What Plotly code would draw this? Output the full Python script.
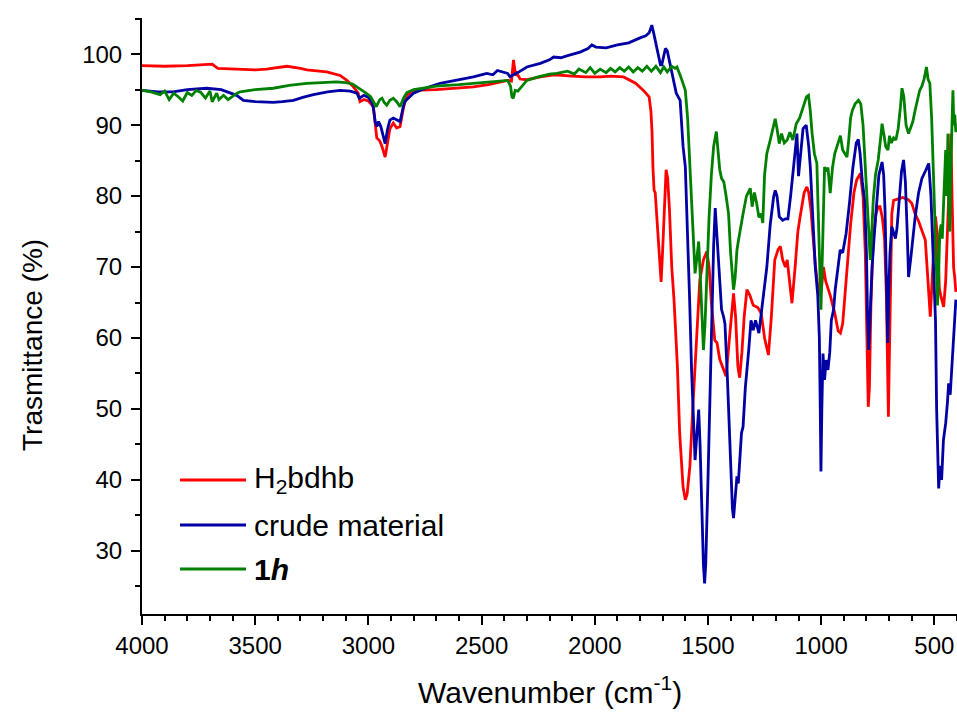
import plotly.graph_objects as go

# ---- IR spectra: wavenumber (cm-1) and transmittance (%) ----
h2bdhb_wn = [4000, 3900, 3800, 3720, 3690, 3665, 3600, 3500, 3450, 3400, 3360, 3300, 3272, 3184, 3125,
             3095, 3066, 3045, 3037, 3020, 3000, 2978, 2968, 2963, 2950, 2940, 2926, 2915, 2905, 2890,
             2875, 2860, 2845, 2830, 2801, 2700, 2600, 2536, 2470, 2418, 2385, 2368, 2359, 2350, 2344,
             2330, 2300, 2241, 2180, 2100, 2040, 1976, 1930, 1873, 1820, 1785, 1760, 1752, 1747, 1743,
             1738, 1733, 1726, 1715, 1707, 1700, 1692, 1685, 1678, 1670, 1660, 1650, 1635, 1625, 1610,
             1600, 1592, 1580, 1565, 1550, 1536, 1520, 1505, 1495, 1485, 1470, 1460, 1448, 1420, 1405,
             1395, 1387, 1378, 1368, 1360, 1350, 1340, 1328, 1315, 1300, 1280, 1265, 1250, 1233, 1220,
             1205, 1190, 1180, 1170, 1158, 1150, 1140, 1129, 1115, 1103, 1093, 1075, 1063, 1055, 1045,
             1033, 1025, 1010, 1000, 990, 980, 960, 940, 925, 915, 905, 895, 886, 870, 855,
             843, 827, 815, 805, 797, 792, 787, 780, 770, 758, 748, 740, 730, 720, 712,
             705, 703, 700, 695, 688, 680, 660, 640, 615, 600, 585, 570, 540, 530, 518,
             510, 503, 495, 485, 478, 472, 459, 450, 440, 432, 427, 422, 415, 410, 405]
h2bdhb_t = [98.4, 98.3, 98.4, 98.5, 98.6, 98.0, 97.9, 97.8, 97.9, 98.1, 98.3, 98.0, 97.8, 97.5, 97.0,
            96.3, 95.4, 94.5, 93.3, 93.6, 93.4, 92.6, 89.5, 88.2, 87.8, 87.0, 85.5, 87.5, 89.5, 90.3,
            89.6, 89.8, 92.5, 94.2, 94.9, 95.0, 95.2, 95.4, 95.7, 96.1, 96.3, 96.2, 99.2, 97.0, 97.3,
            96.5, 96.4, 96.8, 97.1, 96.9, 96.8, 96.8, 96.9, 96.8, 95.9, 94.9, 94.0, 92.0, 89.0, 84.0,
            80.8, 80.5, 77.0, 71.0, 67.9, 72.5, 80.0, 83.7, 82.5, 78.0, 70.0, 65.4, 56.0, 46.6, 39.0,
            37.2, 38.0, 41.9, 51.3, 60.0, 68.2, 71.0, 72.2, 70.0, 65.0, 59.7, 59.3, 57.0, 54.6, 60.0,
            64.0, 66.3, 63.0, 56.0, 54.4, 58.0, 63.0, 66.8, 66.0, 64.6, 64.3, 63.5, 60.0, 57.6, 63.0,
            71.0, 72.5, 72.9, 71.0, 70.0, 71.0, 68.0, 64.9, 70.0, 75.0, 77.1, 80.5, 81.3, 80.5, 78.0,
            73.8, 70.0, 66.0, 66.5, 70.0, 68.0, 66.0, 63.5, 61.0, 60.7, 62.0, 66.0, 69.1, 76.0, 80.5,
            82.3, 83.2, 80.0, 72.0, 60.0, 50.3, 53.0, 65.0, 74.0, 77.5, 78.5, 78.5, 77.0, 74.0, 66.0,
            52.0, 48.9, 55.0, 68.0, 77.5, 79.4, 79.6, 79.8, 79.5, 79.0, 77.5, 76.5, 73.8, 69.1, 63.0,
            68.0, 72.9, 77.1, 74.0, 67.0, 66.0, 64.4, 68.0, 77.1, 84.0, 88.8, 80.0, 70.0, 68.5, 66.5]

crude_wn = [4000, 3930, 3863, 3800, 3714, 3650, 3582, 3552, 3500, 3420, 3380, 3331, 3290, 3243, 3180,
            3125, 3080, 3051, 3040, 3020, 3000, 2985, 2978, 2970, 2963, 2955, 2945, 2935, 2926, 2915,
            2905, 2890, 2875, 2860, 2850, 2840, 2801, 2740, 2683, 2600, 2536, 2477, 2450, 2430, 2400,
            2385, 2374, 2360, 2340, 2300, 2241, 2200, 2182, 2150, 2120, 2065, 2030, 2013, 1995, 1976,
            1950, 1900, 1850, 1800, 1775, 1760, 1748, 1740, 1730, 1718, 1710, 1704, 1695, 1688, 1680,
            1672, 1665, 1650, 1640, 1623, 1610, 1600, 1590, 1581, 1572, 1565, 1557, 1550, 1541, 1535,
            1528, 1520, 1515, 1510, 1500, 1492, 1483, 1475, 1468, 1460, 1450, 1440, 1431, 1425, 1415,
            1400, 1392, 1387, 1380, 1372, 1366, 1360, 1352, 1345, 1335, 1320, 1310, 1300, 1290, 1275,
            1262, 1248, 1240, 1225, 1210, 1203, 1195, 1185, 1170, 1158, 1147, 1135, 1122, 1113, 1107,
            1100, 1092, 1080, 1066, 1055, 1048, 1038, 1026, 1015, 1008, 1004, 1001, 997, 992, 985,
            978, 970, 962, 955, 945, 938, 930, 916, 905, 890, 875, 860, 845, 836, 828,
            818, 808, 800, 795, 790, 784, 775, 765, 755, 745, 731, 724, 718, 712, 708,
            706, 702, 696, 688, 680, 672, 665, 655, 645, 636, 628, 620, 614, 605, 598,
            585, 570, 555, 540, 525, 515, 505, 495, 490, 485, 481, 475, 468, 460, 450,
            442, 437, 430, 422, 415, 405]
crude_t = [94.9, 94.7, 94.7, 95.0, 95.2, 95.0, 94.2, 93.5, 93.3, 93.2, 93.3, 93.5, 93.9, 94.3, 94.7,
           94.9, 94.8, 94.5, 93.8, 94.2, 93.9, 93.2, 92.4, 90.5, 89.8, 90.5, 89.8, 88.5, 87.4, 89.5,
           90.7, 91.0, 90.8, 90.5, 92.0, 93.3, 94.5, 95.3, 95.9, 96.4, 96.8, 97.3, 97.1, 97.7, 97.4,
           97.3, 96.8, 97.1, 97.4, 98.2, 98.7, 99.2, 99.6, 99.5, 99.8, 100.3, 100.8, 101.3, 101.0, 101.0,
           100.9, 101.3, 101.6, 102.3, 102.6, 103.0, 104.1, 103.0, 101.5, 100.0, 98.5, 98.5, 100.0, 100.8, 100.5,
           99.3, 98.7, 96.5, 94.5, 93.5, 87.0, 84.1, 75.0, 65.4, 55.0, 48.0, 42.8, 46.0, 49.9, 45.0,
           36.0, 28.0, 25.4, 28.0, 40.0, 51.3, 63.0, 73.0, 78.3, 74.0, 68.0, 64.0, 63.0, 62.0, 55.0,
           42.0, 36.0, 34.6, 37.0, 40.5, 39.5, 42.0, 46.6, 47.5, 53.0, 58.3, 62.5, 61.1, 62.5, 60.7,
           64.0, 68.0, 70.0, 76.0, 79.9, 80.8, 80.0, 77.1, 76.6, 76.8, 76.8, 80.0, 84.1, 87.0, 88.8,
           82.8, 86.0, 89.5, 90.0, 87.0, 84.1, 77.0, 70.0, 66.0, 60.0, 50.0, 41.2, 50.0, 57.8, 54.1,
           56.9, 55.5, 58.0, 62.5, 64.0, 66.8, 69.0, 72.4, 72.0, 74.7, 79.0, 84.0, 87.5, 88.0, 86.0,
           82.0, 79.4, 72.0, 63.0, 58.3, 63.0, 70.0, 74.7, 79.0, 83.0, 84.8, 83.0, 78.0, 70.0, 65.4,
           59.3, 66.0, 72.0, 75.7, 75.0, 74.0, 75.5, 80.0, 83.5, 85.1, 82.0, 75.0, 68.6, 71.0, 73.3,
           77.0, 80.4, 82.5, 83.5, 84.6, 80.0, 72.0, 62.5, 50.0, 42.0, 38.8, 42.0, 40.0, 45.6, 48.0,
           51.0, 53.6, 52.0, 56.0, 60.7, 65.4]

h1_wn = [4000, 3960, 3920, 3900, 3880, 3860, 3840, 3820, 3800, 3780, 3760, 3740, 3720, 3700, 3690,
         3670, 3660, 3640, 3620, 3600, 3580, 3567, 3500, 3420, 3350, 3272, 3200, 3140, 3100, 3070,
         3051, 3030, 3010, 2990, 2978, 2965, 2950, 2940, 2930, 2919, 2905, 2890, 2875, 2860, 2845,
         2830, 2800, 2700, 2600, 2536, 2470, 2418, 2385, 2372, 2366, 2360, 2352, 2340, 2320, 2300,
         2250, 2200, 2168, 2120, 2090, 2070, 2040, 2020, 2000, 1976, 1950, 1930, 1910, 1890, 1870,
         1850, 1830, 1810, 1790, 1770, 1750, 1730, 1710, 1695, 1680, 1660, 1645, 1637, 1620, 1600,
         1590, 1582, 1571, 1564, 1557, 1550, 1541, 1533, 1525, 1520, 1513, 1505, 1495, 1485, 1475,
         1463, 1455, 1448, 1440, 1430, 1420, 1409, 1400, 1392, 1387, 1380, 1372, 1365, 1355, 1345,
         1330, 1313, 1305, 1295, 1285, 1275, 1265, 1258, 1250, 1240, 1225, 1203, 1195, 1185, 1175,
         1163, 1150, 1138, 1125, 1110, 1095, 1080, 1065, 1056, 1048, 1040, 1030, 1019, 1012, 1005,
         1001, 996, 990, 985, 978, 970, 960, 950, 940, 923, 915, 905, 886, 878, 870,
         862, 850, 835, 825, 815, 808, 798, 790, 783, 778, 770, 760, 748, 738, 731,
         722, 715, 705, 698, 690, 680, 670, 660, 650, 643, 635, 625, 614, 605, 595,
         585, 575, 565, 555, 545, 535, 528, 520, 512, 505, 500, 493, 489, 486, 482,
         476, 470, 465, 458, 450, 446, 440, 436, 432, 428, 422, 418, 414, 410, 405]
h1_t = [94.9, 94.7, 94.3, 94.8, 93.6, 94.5, 94.0, 93.4, 94.6, 94.2, 94.9, 94.6, 93.8, 94.8, 93.3,
        94.5, 93.6, 94.2, 93.6, 94.1, 94.5, 94.7, 95.0, 95.2, 95.6, 95.9, 96.0, 96.1, 96.0, 95.8,
        95.4, 95.0, 94.5, 94.0, 93.3, 92.6, 93.6, 93.8, 93.2, 92.8, 93.5, 93.8, 93.3, 92.6, 93.8,
        94.6, 95.0, 95.5, 95.7, 95.9, 96.1, 96.3, 96.3, 95.5, 94.0, 93.8, 94.9, 94.8, 95.5, 96.3,
        96.8, 97.2, 97.3, 97.6, 97.2, 97.9, 97.4, 98.1, 97.3, 97.9, 97.4, 98.0, 97.5, 98.1, 97.6,
        98.2, 97.5, 98.1, 97.6, 98.3, 97.6, 98.3, 97.4, 98.2, 97.5, 98.3, 98.0, 98.2, 96.8, 94.9,
        91.0, 86.0, 79.4, 73.0, 69.1, 71.0, 73.6, 68.0, 61.0, 58.3, 62.0, 70.0, 77.1, 83.0, 87.0,
        89.1, 86.0, 83.7, 82.5, 82.0, 80.0, 77.5, 72.0, 68.0, 66.8, 68.5, 72.4, 73.8, 76.0, 77.5,
        80.0, 81.1, 78.5, 80.5, 79.0, 77.0, 77.5, 76.2, 83.0, 86.0, 87.9, 90.9, 89.5, 87.4, 88.8,
        87.5, 87.9, 89.0, 87.9, 90.2, 91.0, 92.5, 94.0, 94.2, 92.0, 88.8, 86.0, 84.6, 77.5, 68.0,
        64.0, 70.0, 80.0, 84.1, 83.5, 84.0, 80.4, 84.0, 86.0, 87.9, 88.5, 86.5, 85.5, 88.0, 91.0,
        92.1, 93.0, 93.5, 93.0, 90.0, 86.0, 79.4, 74.0, 71.0, 74.0, 79.4, 83.0, 85.1, 88.0, 90.2,
        88.5, 87.0, 86.5, 88.5, 87.5, 88.2, 87.9, 89.5, 92.5, 95.2, 94.0, 90.0, 88.8, 89.5, 90.5,
        92.1, 93.5, 94.9, 95.5, 96.5, 98.2, 96.5, 95.9, 91.0, 84.0, 79.4, 74.0, 70.0, 64.6, 68.0,
        74.8, 76.0, 74.0, 80.0, 86.5, 80.0, 88.8, 78.0, 75.0, 83.0, 89.0, 94.9, 90.0, 91.5, 89.0]

series_names = ["H<sub>2</sub>bdhb", "crude material", "<b>1<i>h</i></b>"]
series_colors = ["#ff0000", "#0000a4", "#008000"]
x_ticks = [4000, 3500, 3000, 2500, 2000, 1500, 1000, 500]
y_ticks = [30, 40, 50, 60, 70, 80, 90, 100]

FONT = "Liberation Sans, Arial, Helvetica, sans-serif"

fig = go.Figure()
for wn, tr, name, col in zip([h2bdhb_wn, crude_wn, h1_wn], [h2bdhb_t, crude_t, h1_t],
                             series_names, series_colors):
    fig.add_trace(go.Scatter(x=wn, y=tr, mode="lines", name=name,
                             line=dict(color=col, width=2.8), showlegend=False))

# plot-area geometry in pixels (used for the hand-drawn legend)
L, R, T, B = 142, 957, 18, 614
W_, H_ = R - L, B - T

def px(xp):
    return (xp - L) / W_

def py(yp):
    return (B - yp) / H_

legend_rows = [480, 525, 569]
for name, col, yrow in zip(series_names, series_colors, legend_rows):
    fig.add_shape(type="line", xref="paper", yref="paper",
                  x0=px(180), x1=px(246), y0=py(yrow), y1=py(yrow),
                  line=dict(color=col, width=2.8))
    fig.add_annotation(xref="paper", yref="paper", x=px(252), y=py(yrow),
                       xanchor="left", yanchor="middle", showarrow=False,
                       text=name, font=dict(family=FONT, size=30, color="black"))

# axis titles
fig.add_annotation(xref="paper", yref="paper", x=0.5, y=py(690), xanchor="center", yanchor="middle",
                   showarrow=False, text="Wavenumber (cm<sup>-1</sup>)",
                   font=dict(family=FONT, size=30, color="black"))
fig.add_annotation(xref="paper", yref="paper", x=px(32), y=py(345), xanchor="center", yanchor="middle",
                   showarrow=False, text="Trasmittance (%)", textangle=-90,
                   font=dict(family=FONT, size=28, color="black"))

axis_common = dict(showgrid=False, zeroline=False, showline=True, linecolor="black", linewidth=2,
                   ticks="outside", ticklen=9, tickwidth=2, tickcolor="black",
                   tickfont=dict(family=FONT, size=24, color="black"), mirror=False)

fig.update_xaxes(range=[4000, 400], tickvals=x_ticks,
                 minor=dict(dtick=100, tick0=0, ticks="outside", ticklen=5, tickwidth=2, tickcolor="black"),
                 **axis_common)
fig.update_yaxes(range=[21.1, 105.1], tickvals=y_ticks, ticklabelstandoff=4,
                 minor=dict(dtick=5, tick0=0, ticks="outside", ticklen=5, tickwidth=2, tickcolor="black"),
                 **axis_common)

fig.update_layout(width=957, height=713, margin=dict(l=L, r=957 - R, t=T, b=713 - B),
                  plot_bgcolor="white", paper_bgcolor="white",
                  font=dict(family=FONT, color="black"))

fig.write_html("out.html")
